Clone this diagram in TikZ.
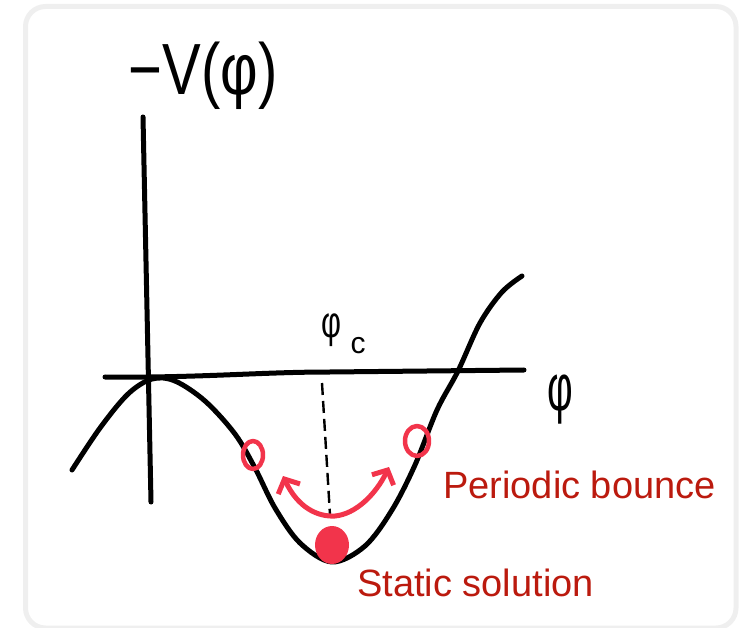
\documentclass[tikz,border=0pt]{standalone}
\usepackage{fontspec}
\setmainfont{Liberation Sans}
\usetikzlibrary{arrows.meta}
\definecolor{framegray}{HTML}{EFEFEF}
\definecolor{labelred}{HTML}{BB1A0E}
\definecolor{inkred}{HTML}{F2344B}
\tikzset{
  ink/.style={line width=5pt, line cap=round, line join=round, black},
  redink/.style={line width=5pt, line cap=round, line join=round, inkred},
  dashline/.style={line width=2.4pt, dash pattern=on 12pt off 6pt, black},
  redlabel/.style={text=labelred, inner sep=0pt, font=\fontsize{38}{44}\selectfont},
  hand/.style={inner sep=0pt, text=black}
}
\begin{document}
\begin{tikzpicture}[x=1pt,y=-1pt]
\useasboundingbox (0,0) rectangle (742,628);
% frame
\draw[framegray, line width=5pt, rounded corners=20pt] (25.5,6.5) rectangle (736,628);
% axes
\coordinate (yaxtop) at (143,117);
\coordinate (yaxbot) at (151,502);
\coordinate (xaxl) at (105,377);
\coordinate (xaxr) at (524,370);
\draw[ink] (yaxtop) -- (yaxbot);
\draw[ink] (xaxl) .. controls (200,378) and (260,372) .. (330,372) -- (xaxr);
% potential curve
\draw[ink] plot[smooth, tension=0.55] coordinates {
 (72,470) (100,428) (128,394) (152,379) (175,381) (205,401) (235,434) (255,468)
 (275,508) (300,543) (332,562) (365,546) (392,510) (415,465) (437,410)
 (458,371) (480,323) (502,292) (522,276)};
% dashed line
\coordinate (dtop) at (322,383);
\coordinate (dbot) at (330,515);
\draw[dashline] (dtop) -- (dbot);
% labels (handwritten)
\node[hand, anchor=base] (title) at (203,95) {\scalebox{1}[1.25]{\fontsize{58}{60}\selectfont −V(φ)}};
\node[hand, anchor=base] (phiax) at (560,410) {\scalebox{0.6}[1.0]{\fontsize{66}{70}\selectfont φ}};
\node[hand, anchor=base] (phic) at (331,338) {\scalebox{0.7}[1.0]{\fontsize{44}{48}\selectfont φ}};
\node[hand, anchor=base] (csub) at (358,354) {\fontsize{30}{32}\selectfont c};
% red marks
\draw[redink, line width=4.5pt] (253,455) ellipse [x radius=10pt, y radius=14pt];
\draw[redink, line width=4.5pt] (417,441) ellipse [x radius=12pt, y radius=15pt];
\fill[inkred] (332,545) ellipse [x radius=17pt, y radius=19pt];
\coordinate (al) at (283,476);
\coordinate (ar) at (389,467);
\draw[redink, {Straight Barb[length=11pt,width=24pt]}-{Straight Barb[length=11pt,width=24pt]}]
  (al) .. controls (298,508) and (318,517) .. (335,516) .. controls (356,514) and (376,494) .. (ar);
% red text
\node[redlabel, anchor=base west] (pb) at (443,498) {Periodic bounce};
\node[redlabel, anchor=base west] (ss) at (357,596) {Static solution};
\end{tikzpicture}
\end{document}
